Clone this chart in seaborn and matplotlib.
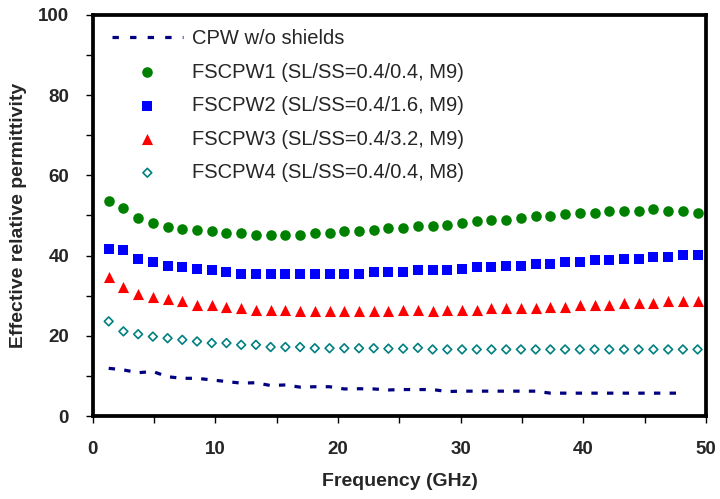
import matplotlib
matplotlib.use("Agg")
import matplotlib.pyplot as plt
from matplotlib.ticker import MultipleLocator
import seaborn as sns

freq = [1.3, 2.5, 3.7, 4.9, 6.1, 7.3, 8.5, 9.7, 10.9, 12.1, 13.3, 14.5, 15.7, 16.9,
        18.1, 19.3, 20.5, 21.7, 22.9, 24.1, 25.3, 26.5, 27.7, 28.9, 30.1, 31.3, 32.5,
        33.7, 34.9, 36.1, 37.3, 38.5, 39.7, 40.9, 42.1, 43.3, 44.5, 45.7, 46.9, 48.1, 49.3]

cpw = [11.9, 11.5, 10.8, 11.1, 9.8, 9.4, 9.4, 9.0, 8.6, 8.2, 8.3, 7.6, 7.75, 7.2,
       7.3, 7.3, 6.75, 6.8, 6.75, 6.5, 6.6, 6.6, 6.6, 6.1, 6.2, 6.2, 6.2, 6.2,
       6.2, 6.2, 5.7, 5.7, 5.7, 5.7, 5.7, 5.7, 5.7, 5.7, 5.7, 5.7]

fscpw1 = [53.6, 51.9, 49.4, 48.2, 47.25, 46.75, 46.4, 46.1, 45.7, 45.7, 45.2, 45.2, 45.2, 45.2,
          45.7, 45.7, 46.1, 46.1, 46.5, 46.8, 46.8, 47.3, 47.3, 47.75, 48.2, 48.6, 49.0,
          49.0, 49.4, 49.8, 49.8, 50.25, 50.7, 50.7, 51.1, 51.1, 51.1, 51.5, 51.1, 51.1, 50.7]

fscpw2 = [41.75, 41.3, 39.25, 38.4, 37.5, 37.1, 36.7, 36.3, 35.8, 35.4, 35.4, 35.4, 35.4, 35.4,
          35.4, 35.4, 35.4, 35.4, 35.8, 35.8, 35.8, 36.3, 36.3, 36.3, 36.7, 37.1, 37.1,
          37.5, 37.5, 37.9, 37.9, 38.3, 38.3, 38.8, 38.8, 39.25, 39.25, 39.7, 39.7, 40.1, 40.1]

fscpw3 = [34.6, 32.1, 30.4, 29.8, 29.2, 28.6, 27.75, 27.75, 27.3, 26.9, 26.5, 26.5, 26.5, 26.1,
          26.1, 26.1, 26.1, 26.1, 26.1, 26.1, 26.5, 26.5, 26.1, 26.5, 26.5, 26.5, 26.9,
          26.9, 26.9, 26.9, 27.3, 27.3, 27.75, 27.75, 27.75, 28.2, 28.2, 28.2, 28.6, 28.6, 28.6]

fscpw4 = [23.6, 21.1, 20.4, 19.8, 19.4, 19.0, 18.6, 18.2, 18.2, 17.75, 17.75, 17.2, 17.2, 17.2,
          16.9, 16.9, 16.9, 16.9, 16.9, 16.8, 16.8, 17.0, 16.6, 16.6, 16.6, 16.6, 16.6,
          16.6, 16.6, 16.6, 16.6, 16.6, 16.6, 16.6, 16.6, 16.6, 16.6, 16.6, 16.6, 16.6, 16.6]

labels = ["CPW w/o shields",
          "FSCPW1 (SL/SS=0.4/0.4, M9)",
          "FSCPW2 (SL/SS=0.4/1.6, M9)",
          "FSCPW3 (SL/SS=0.4/3.2, M9)",
          "FSCPW4 (SL/SS=0.4/0.4, M8)"]

sns.set_theme(style="white")
plt.rcParams['font.family'] = ['Liberation Sans', 'DejaVu Sans']

fig = plt.figure(figsize=(7.2, 4.99), dpi=100)
ax = fig.add_axes([0.1288, 0.1663, 0.852, 0.8037])

sns.lineplot(x=freq[:len(cpw)], y=cpw, ax=ax, color="#000080", lw=2.3,
             label=labels[0])
ax.lines[0].set_dashes([2.0, 2.9])
ax.lines[0].set_dash_capstyle('butt')
sns.scatterplot(x=freq, y=fscpw1, ax=ax, marker="o", color="#008000", s=58,
                linewidth=0, label=labels[1])
sns.scatterplot(x=freq, y=fscpw2, ax=ax, marker="s", color="#0000FF", s=52,
                linewidth=0, label=labels[2])
sns.scatterplot(x=freq, y=fscpw3, ax=ax, marker="^", color="#FF0000", s=64,
                linewidth=0, label=labels[3])
sns.scatterplot(x=freq, y=fscpw4, ax=ax, marker="D", facecolor="none",
                edgecolor="#008080", s=20, linewidth=1.2, label=labels[4])

ax.set_xlim(0, 50)
ax.set_ylim(0, 100)
ax.xaxis.set_major_locator(MultipleLocator(10))
ax.xaxis.set_minor_locator(MultipleLocator(5))
ax.yaxis.set_major_locator(MultipleLocator(20))
ax.yaxis.set_minor_locator(MultipleLocator(10))
ax.tick_params(axis='both', which='both', direction='out', length=5, width=1,
               color='black', left=True, bottom=True, top=False, right=False)
ax.tick_params(axis='x', which='major', pad=13, labelsize=13.5)
ax.tick_params(axis='y', which='major', pad=12, labelsize=13.5)
for lab in ax.get_xticklabels() + ax.get_yticklabels():
    lab.set_fontweight('bold')
for sp in ax.spines.values():
    sp.set_visible(True)
    sp.set_color('black')
    sp.set_linewidth(2.7)

ax.set_xlabel("Frequency (GHz)", fontsize=14, fontweight='bold', labelpad=11)
ax.set_ylabel("Effective relative permittivity", fontsize=14, fontweight='bold', labelpad=8)

leg = ax.legend(loc='upper left', bbox_to_anchor=(0.025, 0.975), frameon=False,
                fontsize=14.5, handlelength=3.5, handletextpad=0.45,
                labelspacing=0.72, borderpad=0.2, borderaxespad=0)
for h in leg.legend_handles[:1]:
    h.set_dashes([2.0, 3.5])
    h.set_dash_capstyle('butt')

fig.savefig("out.png", dpi=100)
